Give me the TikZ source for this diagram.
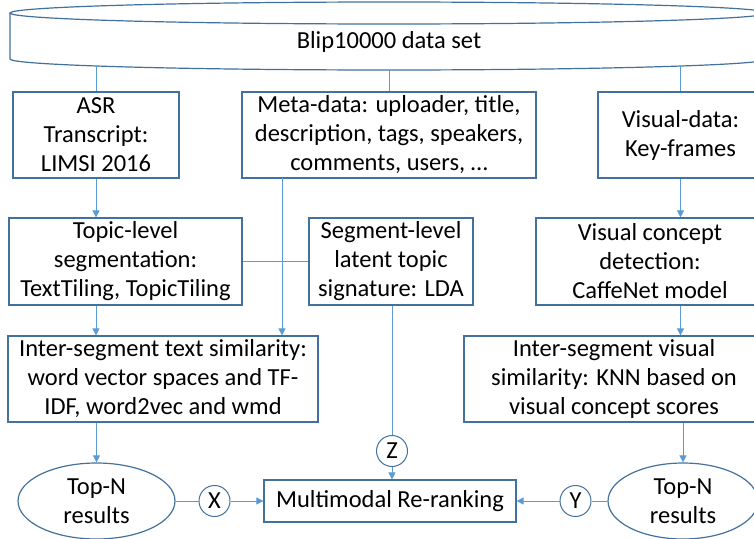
\documentclass[tikz,border=0pt]{standalone}
\usepackage{fontspec}
\setmainfont{Carlito}
\usetikzlibrary{arrows.meta}
\usetikzlibrary{shapes.geometric}
\definecolor{boxblue}{HTML}{41719C}
\definecolor{lineblue}{HTML}{5B9BD5}
\tikzset{box/.style 2 args={draw=boxblue, line width=1.2pt,
			align=center, inner sep=0pt,
			minimum width=#1pt, minimum height=#2pt},
		oval/.style 2 args={ellipse, draw=boxblue, line width=1.2pt,
			align=center, inner sep=0pt,
			minimum width=#1pt, minimum height=#2pt},
		tag/.style={circle, draw=boxblue, line width=1pt,
			minimum size=31pt, inner sep=0pt},
		link/.style={draw=lineblue, line width=0.8pt},
		arrow/.style={link, -{Triangle[length=7pt,width=7pt]}}}

\begin{document}
\begin{tikzpicture}[x=1pt, y=-1pt, font=\fontsize{24.5pt}{29pt}\selectfont]
		\useasboundingbox (0,0) rectangle (754,538);
		\clip (0,0) rectangle (754,538);
		
		% data set
		\draw[boxblue, line width=1.2pt, fill=white] (10,13) -- (10,59)
			arc[start angle=180, end angle=360, x radius=379pt, y radius=11pt] -- (768,13);
		\draw[boxblue, line width=1.2pt] (389,13) ellipse [x radius=379pt, y radius=11pt];
		\node (nodeData) at (389,42) {Blip10000 data set};
		\coordinate (dataA) at (96,66);
		\coordinate (dataB) at (389,70);
		\coordinate (dataC) at (680.5,66);
		
		\node (nodeASR) at (96,135) [box={166}{86}] {ASR\\Transcript:\\LIMSI 2016};
		\node (nodeMeta) at (389,135) [box={294}{86}] {Meta-data: uploader, title,\\description, tags, speakers,\\comments, users, …};
		\node (nodeVis) at (680.5,135) [box={165}{86}] {Visual-data:\\Key-frames};
		
		\node (nodeTopic) at (125.5,261.5) [box={233}{87}] {Topic-level\\segmentation:\\TextTiling, TopicTiling};
		\node (nodeSeg) at (391,261.5) [box={164}{87}] {Segment-level\\latent topic\\signature: LDA};
		\node (nodeConcept) at (650,261.5) [box={228}{87}] {Visual concept\\detection:\\CaffeNet model};
		
		\node (nodeTextSim) at (163,379) [box={310}{86}] {Inter-segment text similarity:\\word vector spaces and TF-\\IDF, word2vec and wmd};
		\node (nodeVisSim) at (614,379) [box={300}{86}] {Inter-segment visual\\similarity: KNN based on\\visual concept scores};
		
		\node (nodeRerank) at (390,501) [box={252}{42}] {Multimodal Re-ranking};
		\node (nodeLeft) at (96.5,501) [oval={157}{76}] {Top-N\\results};
		\node (nodeRight) at (683,501) [oval={150}{76}] {Top-N\\results};
		\node (nodeX) at (214.5,501) [tag] {X};
		\node (nodeY) at (575.5,501) [tag] {Y};
		\node (nodeZ) at (392,451) [tag] {Z};
		\coordinate (metaOut) at (282,178);
		
		\foreach \a/\b in {dataA/nodeASR, dataB/nodeMeta, dataC/nodeVis} {
			\draw[link] (\a) -- (\b.north);
		}
		\draw[arrow] (nodeASR.south) -- (nodeASR.south |- nodeTopic.north);
		\draw[arrow] (nodeTopic.south -| nodeASR) -- (nodeASR |- nodeTextSim.north);
		\draw[arrow] (nodeLeft |- nodeTextSim.south) -- (nodeLeft.north);
		\draw[arrow] (metaOut) -- (metaOut |- nodeTextSim.north);
		\draw[link] (nodeTopic.east) -- (nodeSeg.west);
		\draw[arrow] (nodeVis.south) -- (nodeVis.south |- nodeConcept.north);
		\draw[arrow] (nodeConcept.south -| nodeVis) -- (nodeVis |- nodeVisSim.north);
		\draw[arrow] (nodeRight |- nodeVisSim.south) -- (nodeRight.north);
		\draw[link] (nodeSeg.south -| nodeZ) -- (nodeZ.north);
		\draw[arrow] (nodeZ.south) -- (nodeZ |- nodeRerank.north);
		\draw[link] (nodeLeft.east) -- (nodeX.west);
		\draw[arrow] (nodeX.east) -- (nodeRerank.west);
		\draw[link] (nodeRight.west) -- (nodeY.east);
		\draw[arrow] (nodeY.west) -- (nodeRerank.east);
\end{tikzpicture}
\end{document}
